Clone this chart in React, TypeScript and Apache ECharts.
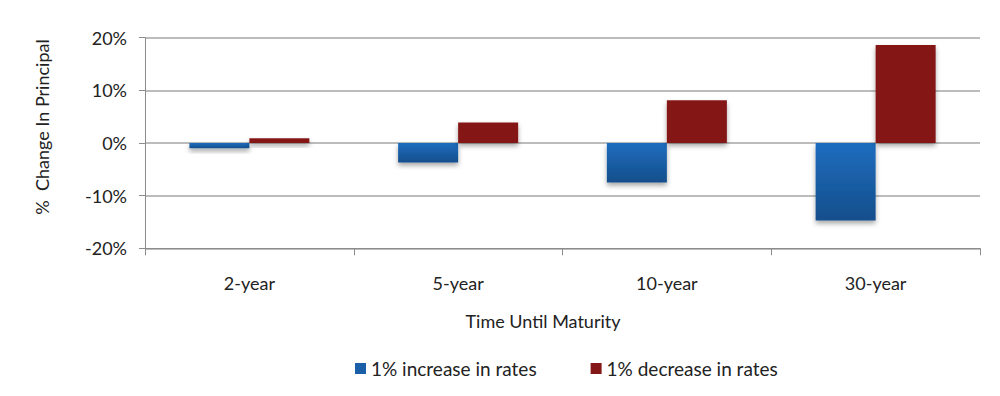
import React, { useEffect, useRef } from "react";
import * as echarts from "echarts";

const categories = ["2-year", "5-year", "10-year", "30-year"];
const increaseValues = [-1.0, -3.7, -7.5, -14.7];
const decreaseValues = [0.9, 3.9, 8.1, 18.6];
const seriesNames = ["1% increase in rates", "1% decrease in rates"];
const yTicks = { min: -20, max: 20, interval: 10 };
const xTitle = "Time Until Maturity";
const yTitle = "%  Change In Principal";

const FONT = "Lato";
const FS = 18;
const TXT = "#222";

export default function App() {
  const ref = useRef<HTMLDivElement>(null);
  useEffect(() => {
    if (!ref.current) return;
    const chart = echarts.init(ref.current, undefined, { renderer: "svg" });
    const blueGrad = new echarts.graphic.LinearGradient(0, 0, 0, 1, [
      { offset: 0, color: "#1f6dbf" },
      { offset: 1, color: "#144e8b" },
    ]);
    chart.setOption({
      animation: false,
      backgroundColor: "#ffffff",
      textStyle: { fontFamily: FONT },
      grid: {
        left: 145,
        right: 20,
        top: 37.7,
        bottom: 147.7,
        containLabel: false,
        outerBoundsMode: "none",
      },
      legend: {
        left: 350,
        top: 354,
        padding: 5,
        itemWidth: 11,
        itemHeight: 11,
        itemGap: 54,
        icon: "rect",
        textStyle: { fontFamily: FONT, fontSize: 19, color: TXT },
        data: [
          { name: seriesNames[0], itemStyle: { color: "#1a5fa8" } },
          { name: seriesNames[1], itemStyle: { color: "#841818" } },
        ],
      },
      graphic: [
        {
          type: "text",
          x: 543,
          y: 321,
          style: {
            text: xTitle,
            fontFamily: FONT,
            fontSize: FS,
            fill: TXT,
            align: "center",
            verticalAlign: "middle",
          },
        },
        {
          type: "text",
          x: 42,
          y: 127,
          rotation: Math.PI / 2,
          style: {
            text: yTitle,
            fontFamily: FONT,
            fontSize: FS,
            fill: TXT,
            align: "center",
            verticalAlign: "middle",
          },
        },
      ],
      xAxis: [
        {
          type: "category",
          data: categories,
          position: "bottom",
          axisLine: { show: false },
          axisTick: { show: false },
          axisLabel: { margin: 26, fontSize: FS, color: TXT, fontFamily: FONT },
        },
        {
          type: "category",
          data: categories,
          position: "bottom",
          axisLine: { show: true, onZero: true, lineStyle: { color: "#8c8c8c", width: 1 } },
          axisTick: { show: true, length: 7, lineStyle: { color: "#8c8c8c" } },
          axisLabel: { show: false },
        },
      ],
      yAxis: {
        type: "value",
        min: yTicks.min,
        max: yTicks.max,
        interval: yTicks.interval,
        axisLine: { show: true, lineStyle: { color: "#8c8c8c" } },
        axisTick: { show: true, length: 6, lineStyle: { color: "#8c8c8c" } },
        axisLabel: {
          formatter: "{value}%",
          fontSize: FS,
          color: TXT,
          margin: 18,
          fontFamily: FONT,
        },
        splitLine: { show: true, lineStyle: { color: "#a6a6a6", width: 1.5 } },
      },
      series: [
        {
          name: seriesNames[0],
          type: "bar",
          xAxisIndex: 0,
          data: increaseValues,
          barWidth: 60,
          barGap: "0%",
          itemStyle: {
            color: blueGrad,
            shadowBlur: 5,
            shadowOffsetY: 3,
            shadowColor: "rgba(0,0,0,0.35)",
          },
        },
        {
          name: seriesNames[1],
          type: "bar",
          xAxisIndex: 0,
          data: decreaseValues,
          barWidth: 60,
          barGap: "0%",
          itemStyle: {
            color: "#841818",
            shadowBlur: 5,
            shadowOffsetY: 3,
            shadowColor: "rgba(0,0,0,0.35)",
          },
        },
      ],
    });
    return () => chart.dispose();
  }, []);
  return (
    <div
      ref={ref}
      style={{ position: "fixed", left: 0, top: 0, width: 1000, height: 396, background: "#fff" }}
    />
  );
}
